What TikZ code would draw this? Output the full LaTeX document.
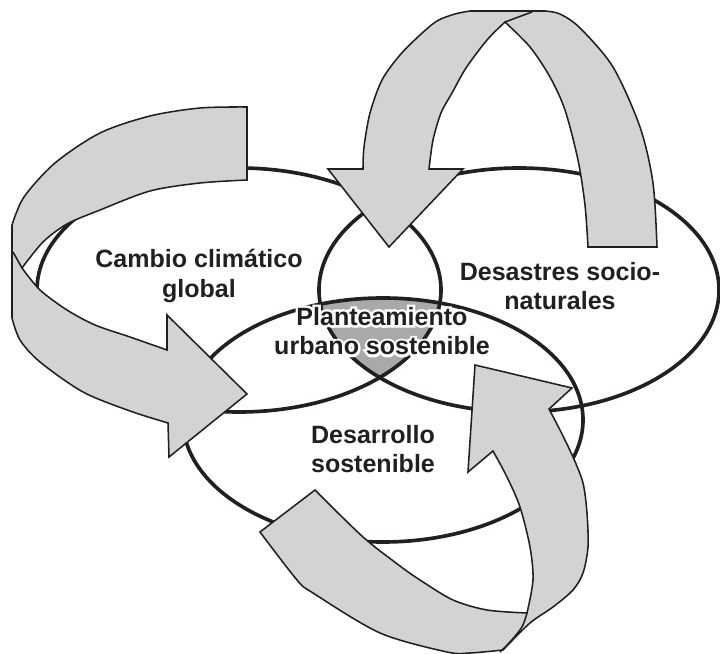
\documentclass[tikz,border=0pt]{standalone}
\usepackage{fontspec}
\setmainfont{Liberation Sans}
\newfontfamily\halofont[FakeBold=20]{Liberation Sans}
\definecolor{ink}{RGB}{35,31,32}
\definecolor{bandgray}{RGB}{209,211,212}
\definecolor{coregray}{RGB}{168,169,171}

\begin{document}
\begin{tikzpicture}[x = 0.25mm, y = -0.25mm,
    ring/.style = {draw = ink, line width = 2.6pt},
    band/.style = {fill = bandgray, draw = ink, line width = 1.1pt, line join = miter},
    crease/.style = {draw = ink, line width = 1.1pt},
    textlabel/.style = {align = center, text = ink, font = \fontsize{17.8}{21}\selectfont\bfseries}]
    \useasboundingbox (0, 0) rectangle (720, 654);
    \coordinate (cambio centre) at (239, 290);
    \coordinate (desastres centre) at (519, 290);
    \coordinate (desarrollo centre) at (383, 420);
    % shared part of the three rings
    \begin{scope}
      \clip (cambio centre) ellipse [x radius = 202, y radius = 122];
      \clip (desastres centre) ellipse [x radius = 200, y radius = 122];
      \fill[coregray] (desarrollo centre) ellipse [x radius = 200, y radius = 122];
    \end{scope}
    \draw[ring] (cambio centre) ellipse [x radius = 202, y radius = 122];
    \draw[ring] (desastres centre) ellipse [x radius = 200, y radius = 122];
    \draw[ring] (desarrollo centre) ellipse [x radius = 200, y radius = 122];
    % left arrow
    \draw[band] plot[smooth] coordinates {(247, 107) (200, 108) (150, 116) (100, 133) (55, 163) (24, 197) (12, 225)}
      -- (12, 318)
      -- plot[smooth] coordinates {(12, 318) (20, 340) (40, 362) (83, 392) (130, 411) (168, 423)}
      -- (169, 457) -- (247, 394) -- (167, 315) -- (167, 350)
      -- plot[smooth] coordinates {(167, 350) (130, 337) (95, 325) (67, 310) (40, 290) (22, 268)}
      -- plot[smooth] coordinates {(22, 268) (43, 242) (67, 224) (100, 210) (150, 191) (200, 183) (247, 180)}
      -- cycle;
    \draw[crease] (22, 268) -- (13, 252);
    % top arrow
    \draw[band] (588, 247) -- (657, 247)
      -- plot[smooth] coordinates {(657, 247) (653, 183) (640, 127) (613, 67) (580, 28) (560, 14) (545, 11)}
      -- plot[smooth] coordinates {(470, 11) (455, 14) (437, 21) (420, 35) (400, 55) (382, 80) (370, 113) (364, 147) (363, 169)}
      -- (328, 169) -- (389, 247) -- (463, 169) -- (429, 169)
      -- plot[smooth] coordinates {(429, 169) (433, 140) (441, 113) (452, 93) (466, 68) (487, 40) (505, 22)}
      -- plot[smooth] coordinates {(505, 22) (530, 47) (550, 77) (565, 110) (578, 160) (585, 205) (588, 247)}
      -- cycle;
    \draw[crease] (505, 22) -- (532, 12);
    % bottom arrow
    \draw[band] (260, 532) -- (315, 490)
      -- plot[smooth] coordinates {(315, 490) (363, 537) (400, 566) (420, 580) (453, 600) (487, 610) (527, 613)}
      -- plot[smooth] coordinates {(527, 613) (533, 580) (530, 547) (520, 507) (507, 477) (493, 451)}
      -- (468, 472) -- (475, 365) -- (572, 388) -- (549, 409)
      -- plot[smooth] coordinates {(549, 409) (560, 430) (573, 457) (583, 483) (587, 513) (588, 547) (583, 573) (573, 590) (553, 607) (530, 623) (503, 650)}
      -- plot[smooth] coordinates {(503, 650) (470, 653) (447, 652) (380, 633) (313, 593) (297, 580) (260, 532)}
      -- cycle;
    \draw[crease] plot[smooth] coordinates {(527, 613) (522, 627) (510, 642) (500, 652)};
    % labels
    \node[textlabel] (cambio) at (199, 276) {Cambio climático \\ global};
    \node[textlabel] (desastres) at (560, 286) {Desastres socio- \\ naturales};
    \node[textlabel] (desarrollo) at (373, 449) {Desarrollo \\ sostenible};
    \node[textlabel, text = white, font = \fontsize{17.8}{21}\selectfont\halofont\bfseries] (halo) at (382, 331) {Planteamiento \\ urbano sostenible};
    \node[textlabel] (planteamiento) at (halo) {Planteamiento \\ urbano sostenible};
\end{tikzpicture}
\end{document}
